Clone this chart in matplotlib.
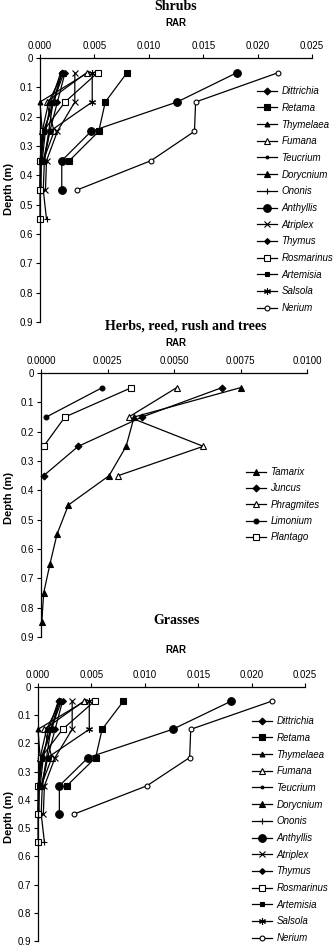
import numpy as np
import matplotlib
matplotlib.use("Agg")
import matplotlib.pyplot as plt

# === Data ===
depths = [0.05, 0.15, 0.25, 0.35, 0.45, 0.55, 0.65, 0.75, 0.85]

# shrubs (the grasses panel repeats the same profiles)
shrub_names = ["Dittrichia", "Retama", "Thymelaea", "Fumana", "Teucrium",
               "Dorycnium", "Ononis", "Anthyllis", "Atriplex", "Thymus",
               "Rosmarinus", "Artemisia", "Salsola", "Nerium"]
dittrichia = [0.0020, 0.0013, 0.0003, 0.0001, 0.0001]
retama = [0.0080, 0.0060, 0.0054, 0.0027]
thymelaea = [0.0044, 0.0000, 0.0002, 0.0001, 0.0000]
fumana = [0.0043, 0.0006, 0.0013, 0.0003]
teucrium = [0.0019, 0.0010, 0.0005, 0.0002]
dorycnium = [0.0021, 0.0008, 0.0002, 0.0001, 0.0000]
ononis = [0.0022, 0.0012, 0.0008, 0.0004, 0.0003, 0.0006]
anthyllis = [0.0181, 0.0126, 0.0047, 0.0020, 0.0020]
atriplex = [0.0032, 0.0032, 0.0016, 0.0006, 0.0005]
thymus = [0.0023, 0.0016, 0.0009, 0.0003]
rosmarinus = [0.0053, 0.0023, 0.0003, 0.0000, 0.0000, 0.0000]
artemisia = [0.0020, 0.0012, 0.0004, 0.0001]
salsola = [0.0048, 0.0048, 0.0009, 0.0004]
nerium = [0.0219, 0.0143, 0.0142, 0.0102, 0.0034]
shrub_values = [dittrichia, retama, thymelaea, fumana, teucrium, dorycnium, ononis,
                anthyllis, atriplex, thymus, rosmarinus, artemisia, salsola, nerium]

# herbs, reed, rush and trees
herb_names = ["Tamarix", "Juncus", "Phragmites", "Limonium", "Plantago"]
tamarix = [0.0075, 0.0035, 0.0032, 0.00256, 0.00103, 0.0006, 0.00034, 0.0001, 0.00003]
juncus = [0.0068, 0.0038, 0.0014, 0.0001]
phragmites = [0.0051, 0.0033, 0.0061, 0.0029]
limonium = [0.0023, 0.0002]
plantago = [0.0034, 0.0009, 0.0001]
herb_values = [tamarix, juncus, phragmites, limonium, plantago]

shrub_ticks = [0.000, 0.005, 0.010, 0.015, 0.020, 0.025]
herb_ticks = [0.0, 0.0025, 0.005, 0.0075, 0.01]
depth_ticks = [0, 0.1, 0.2, 0.3, 0.4, 0.5, 0.6, 0.7, 0.8, 0.9]

# marker styles (marker, size, filled)
shrub_styles = [("D", 3.5, True), ("s", 4, True), ("^", 3.5, True), ("^", 4, False),
                ("o", 2, True), ("^", 4.5, True), ("+", 5, True), ("o", 5.5, True),
                ("x", 4, True), ("D", 3, True), ("s", 4, False), ("s", 2.5, True),
                ((6, 2, 0), 5, True), ("o", 3.5, False)]
herb_styles = [("^", 4.5, True), ("D", 3.5, True), ("^", 4, False),
               ("o", 3.5, True), ("s", 4, False)]

W, H = 336, 949
fig = plt.figure(figsize=(W / 100, H / 100), dpi=100)

sans = "Liberation Sans"
serif = "Liberation Serif"


def px_axes(left, right, top, bottom):
    return fig.add_axes([left / W, 1 - bottom / H, (right - left) / W, (bottom - top) / H])


def draw_panel(ax, names, values, styles, xmax, xticks, xfmt):
    for name, vals, (m, ms, filled) in zip(names, values, styles):
        ax.plot(vals, depths[:len(vals)], color="black", lw=0.9, marker=m, ms=ms,
                mfc="black" if filled else "white", mec="black", mew=0.8,
                label=name, clip_on=False)
    ax.set_xlim(0, xmax)
    ax.set_ylim(0.9, 0)
    ax.xaxis.tick_top()
    ax.set_xticks(xticks)
    ax.set_xticklabels([xfmt.format(t) for t in xticks])
    ax.set_yticks(depth_ticks)
    ax.set_yticklabels(["0"] + ["%.1f" % d for d in depth_ticks[1:]])
    for s in ["right", "bottom"]:
        ax.spines[s].set_visible(False)
    for s in ["left", "top"]:
        ax.spines[s].set_linewidth(0.9)
    ax.tick_params(axis="both", direction="out", length=3, width=0.8,
                   labelsize=7, pad=2)
    for lab in ax.get_xticklabels() + ax.get_yticklabels():
        lab.set_fontfamily(sans)
    ax.patch.set_alpha(0)


def add_legend(ax, x, y_first, spacing):
    fs = 7
    fs_px = fs * 100 / 72
    leg = ax.legend(loc="upper left", bbox_to_anchor=(x / W, 1 - (y_first - fs_px * 0.6) / H),
                    bbox_transform=fig.transFigure, frameon=False, fontsize=fs,
                    prop={"family": sans, "style": "italic", "size": fs},
                    handlelength=2.1, handletextpad=0.4, borderpad=0, borderaxespad=0,
                    labelspacing=(spacing - fs_px) / fs_px)
    return leg


# Shrubs
ax1 = px_axes(40, 312, 58, 322)
draw_panel(ax1, shrub_names, shrub_values, shrub_styles, 0.025, shrub_ticks, "{:.3f}")
add_legend(ax1, 257, 92, 16.4)
fig.text(176 / W, 1 - 7 / H, "Shrubs", ha="center", va="center",
         family=serif, weight="bold", fontsize=10)
fig.text(176 / W, 1 - 23 / H, "RAR", ha="center", va="center",
         family=sans, weight="bold", fontsize=7)
fig.text(9 / W, 1 - 189 / H, "Depth (m)", ha="center", va="center", rotation=90,
         family=sans, weight="bold", fontsize=8)

# Herbs, reed, rush and trees
ax2 = px_axes(41, 307, 373, 637)
draw_panel(ax2, herb_names, herb_values, herb_styles, 0.01, herb_ticks, "{:.4f}")
add_legend(ax2, 246, 473, 16.0)
fig.text(186 / W, 1 - 326 / H, "Herbs, reed, rush and trees", ha="center", va="center",
         family=serif, weight="bold", fontsize=10)
fig.text(176 / W, 1 - 343 / H, "RAR", ha="center", va="center",
         family=sans, weight="bold", fontsize=7)
fig.text(9 / W, 1 - 498 / H, "Depth (m)", ha="center", va="center", rotation=90,
         family=sans, weight="bold", fontsize=8)

# Grasses
ax3 = px_axes(38, 305, 687, 941)
draw_panel(ax3, shrub_names, shrub_values, shrub_styles, 0.025, shrub_ticks, "{:.3f}")
add_legend(ax3, 252, 722, 16.4)
fig.text(177 / W, 1 - 621 / H, "Grasses", ha="center", va="center",
         family=serif, weight="bold", fontsize=10)
fig.text(176 / W, 1 - 650 / H, "RAR", ha="center", va="center",
         family=sans, weight="bold", fontsize=7)
fig.text(9 / W, 1 - 817 / H, "Depth (m)", ha="center", va="center", rotation=90,
         family=sans, weight="bold", fontsize=8)

fig.savefig("out.png", dpi=100)
